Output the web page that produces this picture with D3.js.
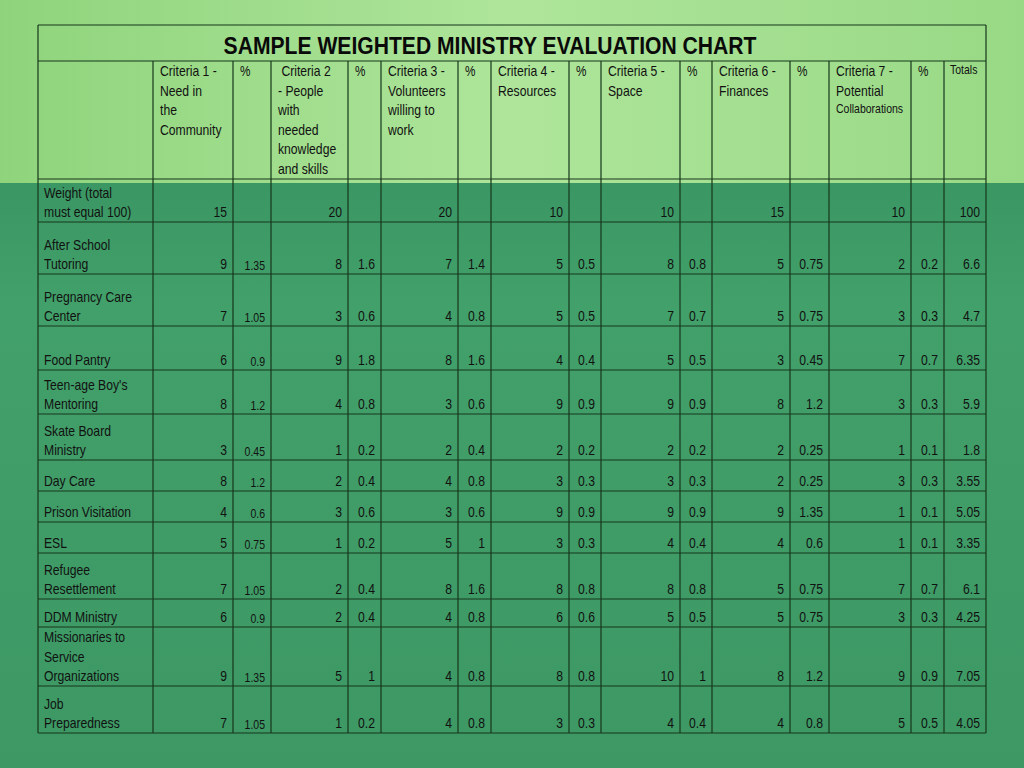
<!DOCTYPE html>
<html><head><meta charset="utf-8">
<script src="https://cdn.jsdelivr.net/npm/d3@7"></script>
<style>body{margin:0;background:#3f9966}</style>
</head><body>
<script>
// table content
const title = "SAMPLE WEIGHTED MINISTRY EVALUATION CHART";
const headers = [
  ["Criteria 1 -", "Need in", "the", "Community"],
  [" Criteria 2", "- People", "with", "needed", "knowledge", "and skills"],
  ["Criteria 3 -", "Volunteers", "willing to", "work"],
  ["Criteria 4 -", "Resources"],
  ["Criteria 5 -", "Space"],
  ["Criteria 6 -", "Finances"],
  ["Criteria 7 -", "Potential", "Collaborations"]
];
const weights = [15, 20, 20, 10, 10, 15, 10];
const weightTotal = 100;
const rowLabels = [
  ["After School", "Tutoring"],
  ["Pregnancy Care", "Center"],
  ["Food Pantry"],
  ["Teen-age Boy's", "Mentoring"],
  ["Skate Board", "Ministry"],
  ["Day Care"],
  ["Prison Visitation"],
  ["ESL"],
  ["Refugee", "Resettlement"],
  ["DDM Ministry"],
  ["Missionaries to", "Service", "Organizations"],
  ["Job", "Preparedness"]
];
const scores = [
  [9, 8, 7, 5, 8, 5, 2],
  [7, 3, 4, 5, 7, 5, 3],
  [6, 9, 8, 4, 5, 3, 7],
  [8, 4, 3, 9, 9, 8, 3],
  [3, 1, 2, 2, 2, 2, 1],
  [8, 2, 4, 3, 3, 2, 3],
  [4, 3, 3, 9, 9, 9, 1],
  [5, 1, 5, 3, 4, 4, 1],
  [7, 2, 8, 8, 8, 5, 7],
  [6, 2, 4, 6, 5, 5, 3],
  [9, 5, 4, 8, 10, 8, 9],
  [7, 1, 4, 3, 4, 4, 5]
];
const percents = [
  [1.35, 1.6, 1.4, 0.5, 0.8, 0.75, 0.2],
  [1.05, 0.6, 0.8, 0.5, 0.7, 0.75, 0.3],
  [0.9, 1.8, 1.6, 0.4, 0.5, 0.45, 0.7],
  [1.2, 0.8, 0.6, 0.9, 0.9, 1.2, 0.3],
  [0.45, 0.2, 0.4, 0.2, 0.2, 0.25, 0.1],
  [1.2, 0.4, 0.8, 0.3, 0.3, 0.25, 0.3],
  [0.6, 0.6, 0.6, 0.9, 0.9, 1.35, 0.1],
  [0.75, 0.2, 1, 0.3, 0.4, 0.6, 0.1],
  [1.05, 0.4, 1.6, 0.8, 0.8, 0.75, 0.7],
  [0.9, 0.4, 0.8, 0.6, 0.5, 0.75, 0.3],
  [1.35, 1, 0.8, 0.8, 1, 1.2, 0.9],
  [1.05, 0.2, 0.8, 0.3, 0.4, 0.8, 0.5]
];
const totals = [6.6, 4.7, 6.35, 5.9, 1.8, 3.55, 5.05, 3.35, 6.1, 4.25, 7.05, 4.05];

// layout
const W = 1024, H = 768;
const colEdges = [38, 153, 233, 271, 348, 381, 458, 491, 569, 601, 680, 712, 790, 829, 911, 944, 986];
const rowEdges = [25, 61, 179, 222, 274, 326, 370, 414, 460, 491, 522, 553, 599, 627, 686, 733];
const font = "'Liberation Sans',Arial,sans-serif";
const lh = 19.5;
const squeeze = 0.84; // fake a narrow face

const svg = d3.select("body").append("svg").attr("width", W).attr("height", H);
const defs = svg.append("defs");
const gTop = defs.append("linearGradient").attr("id", "top").attr("x1", 0).attr("x2", 1);
gTop.append("stop").attr("offset", 0).attr("stop-color", "#8fd47c");
gTop.append("stop").attr("offset", 0.5).attr("stop-color", "#aee59a");
gTop.append("stop").attr("offset", 1).attr("stop-color", "#98d985");
const gBot = defs.append("linearGradient").attr("id", "bot").attr("x1", 0).attr("x2", 0).attr("y1", 0).attr("y2", 1);
gBot.append("stop").attr("offset", 0).attr("stop-color", "#2f8a5a");
gBot.append("stop").attr("offset", 0.4).attr("stop-color", "#42a06a");
gBot.append("stop").attr("offset", 1).attr("stop-color", "#3d9864");
svg.append("rect").attr("width", W).attr("height", H).attr("fill", "url(#bot)");
svg.append("rect").attr("width", W).attr("height", 183).attr("fill", "url(#top)");

const x = i => colEdges[i];
const y = i => rowEdges[i];
const g = svg.append("g").attr("font-family", font).attr("fill", "#111");

function txt(px, py, s, size, anchor, sx) {
  return g.append("text")
    .attr("transform", `translate(${px},${py}) scale(${sx || squeeze},1)`)
    .attr("font-size", size).attr("text-anchor", anchor || "start")
    .style("white-space", "pre").text(s);
}

// grid lines
const lineColor = "#16361c";
rowEdges.forEach(v => g.append("line").attr("x1", x(0)).attr("x2", x(colEdges.length - 1))
  .attr("y1", v).attr("y2", v).attr("stroke", lineColor).attr("stroke-width", 1.2));
colEdges.forEach((v, i) => g.append("line").attr("x1", v).attr("x2", v)
  .attr("y1", (i === 0 || i === colEdges.length - 1) ? y(0) : y(1)).attr("y2", y(rowEdges.length - 1))
  .attr("stroke", lineColor).attr("stroke-width", 1.2));

// title
txt(490, 54, title, 24, "middle", 0.88).attr("font-weight", "bold").attr("fill", "#0a0a0a");

// headers
headers.forEach((lines, c) => {
  const ci = 1 + c * 2;
  lines.forEach((s, k) => {
    const small = s === "Collaborations";
    txt(x(ci) + 7, 76 + k * lh - (small ? 2 : 0), s, small ? 12.5 : 14.5);
  });
  txt(x(ci + 1) + 7, 76, "%", 14);
});
txt(x(15) + 6, 74, "Totals", 12.5);

// body rows
function rowLabel(r, lines) {
  const b = y(r + 1) - 5;
  lines.forEach((s, k) => txt(x(0) + 6, b - (lines.length - 1 - k) * lh, s, 14.5));
}
function cellRight(ci, r, v, size) {
  txt(x(ci + 1) - 6, y(r + 1) - (size < 14 ? 4 : 5), v, size, "end");
}
rowLabel(2, ["Weight (total", "must equal 100)"]);
weights.forEach((w, c) => cellRight(1 + c * 2, 2, w, 14.5));
cellRight(15, 2, weightTotal, 14.5);

rowLabels.forEach((lines, i) => {
  const r = i + 3;
  rowLabel(r, lines);
  scores[i].forEach((v, c) => cellRight(1 + c * 2, r, v, 14.5));
  percents[i].forEach((v, c) => cellRight(2 + c * 2, r, v, c === 0 ? 12.5 : 14.5));
  cellRight(15, r, totals[i], 14.5);
});
</script>
</body></html>
